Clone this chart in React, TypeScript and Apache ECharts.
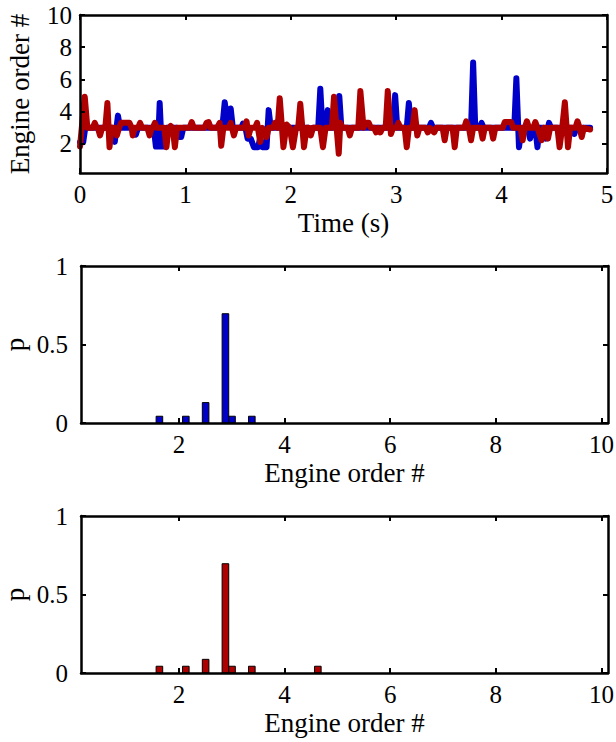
import React, { useEffect, useRef } from 'react';
import * as echarts from 'echarts';

const FONT = "'Liberation Serif', 'Times New Roman', Times, serif";
const BLUE = '#0000c8';
const RED = '#ae0000';

const timeTicks = [0, 1, 2, 3, 4, 5];
const orderTicksTop = [2, 4, 6, 8, 10];
const histXTicks = [2, 4, 6, 8, 10];
const probTicks = [0, 0.5, 1];

const binWidth = 0.125;
const blueBins = [1.63, 2.13, 2.505, 2.88, 3.005, 3.38];
const blueProb = [0.043, 0.043, 0.13, 0.696, 0.043, 0.043];
const redBins = [1.63, 2.13, 2.505, 2.88, 3.005, 3.38, 4.63];
const redProb = [0.043, 0.043, 0.087, 0.696, 0.043, 0.043, 0.043];

// [time (s), engine order]
const blueTrace: [number, number][] = [
  [0.0, 2.1], [0.03, 2.1], [0.05, 3.0], [0.31, 3.0], [0.33, 2.13], [0.36, 3.76], [0.38, 3.0],
  [0.51, 3.0], [0.53, 2.58], [0.55, 3.0], [0.7, 3.0], [0.72, 1.84], [0.74, 1.84], [0.756, 4.54],
  [0.775, 1.84], [0.8, 1.84], [0.82, 3.0], [0.92, 3.0], [0.94, 2.43], [0.96, 2.43], [0.98, 3.0],
  [1.35, 3.0], [1.373, 4.59], [1.4, 3.3], [1.43, 4.2], [1.45, 3.0], [1.53, 3.0], [1.546, 3.26],
  [1.57, 3.0], [1.59, 2.33], [1.62, 2.33], [1.65, 1.8], [1.69, 1.8], [1.71, 2.4], [1.73, 1.8],
  [1.77, 1.8], [1.79, 4.1], [1.81, 3.0], [2.17, 3.0], [2.19, 2.72], [2.21, 3.0], [2.26, 3.0],
  [2.28, 5.43], [2.3, 3.0], [2.33, 3.0], [2.35, 4.1], [2.37, 3.0], [2.44, 3.0], [2.46, 4.98],
  [2.48, 3.0], [2.97, 3.0], [2.99, 5.03], [3.01, 3.0], [3.1, 3.0], [3.12, 4.54], [3.14, 3.0],
  [3.31, 3.0], [3.33, 3.31], [3.35, 3.0], [3.71, 3.0], [3.73, 7.05], [3.75, 3.0], [3.79, 3.0],
  [3.81, 3.31], [3.83, 3.0], [4.12, 3.0], [4.14, 6.07], [4.165, 1.8], [4.19, 3.0], [4.25, 3.0],
  [4.27, 2.33], [4.29, 3.0], [4.32, 3.0], [4.34, 1.8], [4.36, 3.0], [4.4, 3.0], [4.42, 2.33],
  [4.45, 3.31], [4.47, 3.0], [4.67, 3.0], [4.69, 2.62], [4.71, 3.0], [4.84, 3.0],
];

const redTrace: [number, number][] = [
  [0.0, 1.84], [0.045, 4.93], [0.07, 3.0], [0.12, 3.0], [0.14, 3.31], [0.16, 3.0], [0.17, 3.0],
  [0.19, 2.53], [0.21, 3.0], [0.24, 3.0], [0.26, 4.54], [0.28, 1.8], [0.3, 3.0], [0.33, 3.0],
  [0.35, 2.53], [0.37, 3.0], [0.39, 3.31], [0.47, 3.31], [0.49, 3.0], [0.5, 2.53], [0.52, 3.0],
  [0.55, 3.0], [0.57, 3.31], [0.59, 3.0], [0.64, 3.0], [0.66, 2.53], [0.68, 3.0], [0.69, 3.0],
  [0.71, 3.31], [0.73, 3.0], [0.8, 3.0], [0.82, 1.8], [0.84, 3.0], [0.86, 3.12], [0.88, 3.0],
  [0.9, 1.8], [0.92, 3.0], [1.04, 3.0], [1.06, 3.36], [1.08, 3.0], [1.18, 3.0], [1.2, 3.31],
  [1.22, 3.36], [1.24, 3.0], [1.3, 3.0], [1.325, 3.31], [1.34, 1.89], [1.36, 3.0], [1.41, 3.0],
  [1.43, 3.31], [1.46, 2.53], [1.48, 3.0], [1.56, 3.0], [1.58, 3.41], [1.6, 2.53], [1.62, 3.0],
  [1.66, 3.0], [1.68, 3.31], [1.71, 2.13], [1.73, 3.0], [1.77, 2.43], [1.79, 3.0], [1.83, 3.0],
  [1.85, 3.31], [1.875, 3.0], [1.895, 4.84], [1.93, 1.8], [1.96, 3.21], [1.99, 3.0], [2.02, 1.8],
  [2.05, 3.0], [2.07, 3.0], [2.09, 4.49], [2.125, 1.8], [2.15, 3.0], [2.17, 3.0], [2.19, 2.53],
  [2.21, 3.0], [2.28, 3.0], [2.305, 1.8], [2.33, 3.0], [2.39, 3.0], [2.41, 4.93], [2.455, 1.4],
  [2.47, 3.31], [2.49, 3.0], [2.54, 3.0], [2.56, 2.53], [2.58, 3.0], [2.64, 3.0], [2.66, 5.28],
  [2.69, 3.0], [2.71, 3.31], [2.74, 3.31], [2.76, 3.0], [2.79, 3.0], [2.81, 2.72], [2.83, 3.0],
  [2.85, 2.72], [2.87, 3.0], [2.9, 3.0], [2.92, 5.28], [2.95, 2.62], [2.97, 3.0], [3.0, 3.0],
  [3.02, 3.31], [3.04, 3.0], [3.08, 3.0], [3.1, 1.8], [3.12, 3.0], [3.155, 3.0], [3.175, 4.1],
  [3.2, 2.53], [3.22, 3.0], [3.28, 3.0], [3.3, 2.72], [3.32, 3.0], [3.36, 2.72], [3.38, 3.0],
  [3.44, 3.0], [3.46, 2.23], [3.48, 3.0], [3.535, 3.0], [3.555, 1.8], [3.575, 3.0], [3.645, 3.0],
  [3.665, 3.41], [3.69, 3.0], [3.71, 2.23], [3.73, 3.0], [3.8, 3.0], [3.82, 2.33], [3.84, 3.0],
  [3.9, 3.0], [3.92, 2.33], [3.94, 3.0], [4.01, 3.0], [4.03, 3.36], [4.09, 3.36], [4.11, 3.0],
  [4.18, 3.0], [4.2, 2.23], [4.22, 3.0], [4.24, 3.41], [4.26, 3.0], [4.3, 3.0], [4.32, 3.36],
  [4.34, 3.0], [4.38, 2.23], [4.4, 3.0], [4.42, 3.0], [4.44, 2.33], [4.46, 3.0], [4.53, 3.0],
  [4.55, 1.8], [4.575, 3.0], [4.6, 4.59], [4.63, 1.8], [4.65, 3.0], [4.7, 3.0], [4.72, 3.41],
  [4.74, 3.0], [4.76, 2.43], [4.78, 3.0], [4.84, 2.9],
];

const axisLineStyle = { show: true, onZero: false, lineStyle: { color: '#000', width: 2.5 } };
const labelStyle = { color: '#000', fontFamily: FONT, fontSize: 25 };
const nameStyle = { color: '#000', fontFamily: FONT, fontSize: 27 };

function xAxes(grid: number, min: number, max: number, ticks: number[], name: string, gap: number) {
  const base = {
    type: 'value', gridIndex: grid, min, max, z: 5,
    axisLine: axisLineStyle,
    axisTick: { show: true, inside: true, length: 5, customValues: ticks, lineStyle: { color: '#000', width: 2 } },
    splitLine: { show: false },
  };
  return [
    {
      ...base, position: 'bottom', name, nameLocation: 'middle', nameGap: gap, nameTextStyle: nameStyle,
      nameMoveOverlap: false,
      axisLabel: { ...labelStyle, margin: 9, customValues: ticks },
    },
    { ...base, position: 'top', axisLabel: { show: false } },
  ];
}

function yAxes(grid: number, min: number, max: number, ticks: number[], name: string, margin: number, gap: number) {
  const base = {
    type: 'value', gridIndex: grid, min, max, z: 5,
    axisLine: axisLineStyle,
    axisTick: { show: true, inside: true, length: 5, customValues: ticks, lineStyle: { color: '#000', width: 2 } },
    splitLine: { show: false },
  };
  return [
    {
      ...base, position: 'left', name, nameLocation: 'middle', nameGap: gap, nameTextStyle: nameStyle,
      nameMoveOverlap: false,
      axisLabel: { ...labelStyle, margin, customValues: ticks },
    },
    { ...base, position: 'right', axisLabel: { show: false } },
  ];
}

function barSeries(xIdx: number, yIdx: number, bins: number[], probs: number[], color: string) {
  return {
    type: 'custom', xAxisIndex: xIdx, yAxisIndex: yIdx, z: 2,
    encode: { x: 0, y: 1 },
    data: bins.map((b, i) => [b, probs[i]]),
    renderItem: (params: any, api: any) => {
      const x = api.value(0);
      const y = api.value(1);
      const a = api.coord([x - binWidth / 2, y]);
      const b = api.coord([x + binWidth / 2, 0]);
      return {
        type: 'rect',
        shape: { x: a[0], y: a[1], width: b[0] - a[0], height: b[1] - a[1] },
        style: { fill: color, stroke: '#000', lineWidth: 1 },
      };
    },
  };
}

export default function App() {
  const ref = useRef<HTMLDivElement>(null);
  useEffect(() => {
    if (!ref.current) return;
    const chart = echarts.init(ref.current, undefined, { renderer: 'svg' });
    const option: any = {
      animation: false,
      backgroundColor: '#fff',
      grid: [
        { left: 80, top: 15, width: 527, height: 158, outerBoundsMode: 'none', containLabel: false },
        { left: 81, top: 266, width: 527, height: 157, outerBoundsMode: 'none', containLabel: false },
        { left: 81, top: 516, width: 527, height: 157, outerBoundsMode: 'none', containLabel: false },
      ],
      xAxis: [
        ...xAxes(0, 0, 5, timeTicks, 'Time (s)', 36),
        ...xAxes(1, 0.145, 10.125, histXTicks, 'Engine order #', 36),
        ...xAxes(2, 0.145, 10.125, histXTicks, 'Engine order #', 36),
      ],
      yAxis: [
        ...yAxes(0, 0.2, 10, orderTicksTop, 'Engine order #', 8, 47),
        ...yAxes(1, 0, 1, probTicks, 'p', 13, 53),
        ...yAxes(2, 0, 1, probTicks, 'p', 13, 53),
      ],
      series: [
        {
          type: 'line', xAxisIndex: 0, yAxisIndex: 0, data: blueTrace, showSymbol: false, z: 2,
          lineStyle: { color: BLUE, width: 6, join: 'round', cap: 'round' },
        },
        {
          type: 'line', xAxisIndex: 0, yAxisIndex: 0, data: redTrace, showSymbol: false, z: 3,
          lineStyle: { color: RED, width: 6, join: 'round', cap: 'round' },
        },
        barSeries(2, 2, blueBins, blueProb, BLUE),
        barSeries(4, 4, redBins, redProb, RED),
      ],
    };
    chart.setOption(option);
    return () => chart.dispose();
  }, []);
  return (
    <div
      ref={ref}
      style={{ position: 'absolute', left: 0, top: 0, width: 616, height: 742 }}
    />
  );
}
